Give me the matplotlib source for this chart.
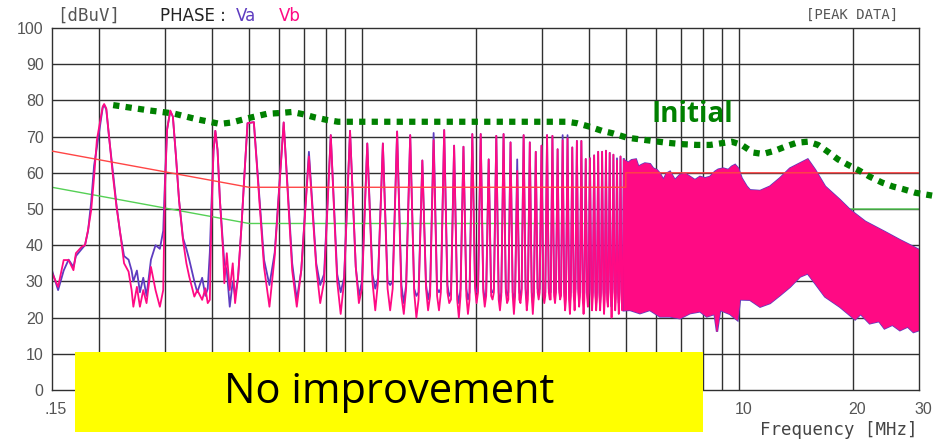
import numpy as np
import matplotlib.pyplot as plt
import matplotlib.transforms as mtransforms
from matplotlib.patches import Rectangle
from matplotlib.ticker import NullFormatter

# ---- data (MHz, dBuV) ----
# low band, drawn point by point (0.15 .. 0.5 MHz)
lo_f = [0.150, 0.1557, 0.1611, 0.166, 0.171, 0.1736, 0.180, 0.1835, 0.187, 0.1906,
        0.194, 0.1973, 0.2045, 0.2063, 0.209, 0.213, 0.2178, 0.2225, 0.227, 0.233,
        0.2395, 0.244, 0.2466, 0.252, 0.2567, 0.262, 0.2673, 0.2746, 0.2824, 0.290,
        0.296, 0.299, 0.303, 0.309, 0.314, 0.320, 0.326, 0.334, 0.341, 0.347,
        0.358, 0.3645, 0.3755, 0.383, 0.3885, 0.3935, 0.397, 0.4025, 0.407, 0.4125,
        0.4185, 0.4265, 0.43, 0.4365, 0.4445, 0.4527, 0.4592, 0.4677, 0.478, 0.4865, 0.4955]
vb_lo = [32.4, 28.5, 35.9, 35.9, 33.1, 37.8, 39.6, 40, 44.2, 49.7,
         58.9, 69, 78.3, 79, 77.8, 69, 58.9, 50.6, 44.2, 35,
         32.7, 27.6, 23, 28.5, 23, 27.6, 24, 34, 27.6, 23,
         27.6, 55, 71.8, 77.2, 75.5, 64.5, 52.5, 41.4, 35, 31.3,
         25.8, 27.6, 24.9, 28.1, 24, 24.9, 46, 66.3, 71.6, 66.3,
         52.5, 38.7, 29.5, 37.8, 27.6, 35, 24, 31.3, 46, 59.9, 73.7]
va_lo = [33, 27.6, 33, 36, 34, 37, 39, 40, 44, 52,
         62, 67, 78, 78.7, 77.5, 69, 60, 51, 44, 37,
         36, 33, 30, 33, 27, 31, 26, 36, 40, 39,
         44, 57, 72, 77, 75.5, 64.5, 52.5, 42, 39, 36,
         30, 27, 31, 26, 28, 38, 50, 66, 71.6, 66.3,
         52.5, 40, 35, 33, 23, 30, 26, 31, 46, 60, 73.7]

# harmonics 5..48 of the ~103 kHz switching frequency
fund = 0.103
harm = np.arange(5, 49)
vb_peak = [74.0, 73.9, 64.5, 70.4, 71.6, 68.1, 68.1, 71.4, 70.4, 63.4,
           69.0, 71.8, 67.5, 67.2, 70.7, 70.7, 63.7, 70.2, 70.7, 68.4,
           60.5, 70.4, 68.4, 65.8, 67.5, 70.4, 70.2, 66.5, 69.0, 69.5,
           67.0, 68.8, 68.8, 63.8, 64.0, 64.8, 65.8, 65.8, 66.1, 65.5,
           65.0, 63.4, 64.5, 63.5]
va_peak = [74.0, 73.9, 65.8, 70.4, 71.6, 68.1, 68.1, 71.4, 70.4, 63.4,
           71.0, 71.8, 67.5, 67.2, 70.7, 70.7, 63.7, 70.2, 70.7, 68.4,
           63.7, 70.4, 68.4, 65.8, 67.5, 70.4, 70.2, 66.5, 70.4, 70.4,
           67.0, 68.8, 68.8, 63.8, 64.0, 64.8, 65.8, 65.8, 66.1, 65.5,
           65.0, 64.0, 64.5, 63.8]
# valleys between harmonics: left foot, middle, right foot
vb_vl = [34, 33, 34, 30, 34, 30, 28, 26, 27, 28, 26, 27, 25, 26, 28, 27, 26, 25,
         27, 26, 25, 27, 26, 27, 26, 27, 26, 27, 26, 25, 26, 27, 25, 26, 27, 26,
         26, 27, 25, 26, 27, 26, 25]
vb_vm = [23, 23, 24, 21, 24, 22, 22, 21, 20, 22, 22, 24, 20, 21, 24, 23, 25, 22,
         24, 21, 24, 22, 21, 25, 24, 25, 24, 25, 22, 21, 22, 23, 21, 23, 22, 22,
         22, 21, 23, 20, 22, 21, 22]
vb_vr = [37, 33, 30, 30, 28, 30, 28, 28, 25, 26, 27, 25, 26, 25, 27, 26, 27, 26,
         25, 26, 27, 25, 26, 27, 26, 25, 27, 26, 25, 26, 27, 26, 25, 27, 26, 25,
         26, 25, 27, 26, 25, 26, 27]
va_vl = [36, 35, 35, 32, 34, 32, 30, 29, 28, 29, 28, 29, 27, 28, 29, 28, 27, 27,
         28, 27, 27, 28, 27, 28, 27, 28, 27, 28, 27, 27, 27, 28, 27, 27, 28, 27,
         27, 28, 27, 27, 28, 27, 27]
va_vm = [29, 25, 29, 27, 26, 28, 29, 24, 26, 25, 27, 26, 24, 25, 27, 25, 27, 24,
         26, 25, 26, 25, 24, 27, 26, 27, 26, 26, 25, 24, 25, 25, 24, 25, 25, 24,
         24, 25, 24, 23, 25, 24, 24]
va_vr = [38, 33, 32, 31, 30, 31, 30, 29, 27, 28, 28, 27, 28, 27, 28, 27, 28, 27,
         27, 27, 28, 27, 27, 28, 27, 27, 28, 27, 27, 27, 28, 27, 27, 28, 27, 27,
         27, 27, 28, 27, 27, 28, 27]

# dense part above ~5 MHz: upper / lower envelope of the spectrum
top_f = [4.94, 5.08, 5.18, 5.32, 5.40, 5.51, 5.62, 5.80, 5.91, 6.04, 6.16, 6.29, 6.42,
         6.55, 6.75, 6.96, 7.18, 7.40, 7.63, 7.87, 8.11, 8.37, 8.62, 8.80, 9.07, 9.36,
         9.55, 9.75, 9.94, 10.15, 10.47, 10.68, 11.36, 12.07, 12.83, 13.64, 14.49, 15.20,
         15.90, 16.90, 18.50, 19.70, 21.60, 24.30, 26.70, 28.40, 30.0]
top_db = [63.5, 62.8, 63.5, 63.7, 61.7, 62.2, 62.6, 62.4, 61.2, 60.8, 59.8, 58.0, 59.8,
          60.3, 58.0, 59.4, 59.8, 58.9, 58.0, 58.9, 58.5, 58.9, 60.3, 60.9, 61.2, 60.8,
          61.7, 62.2, 61.2, 58.5, 56.2, 55.2, 55.0, 56.2, 58.5, 61.2, 62.6, 63.7,
          60.8, 56.2, 52.5, 49.7, 46.5, 43.7, 41.4, 40.0, 38.7]
bot_f = [4.94, 5.13, 5.45, 5.79, 6.16, 6.55, 6.96, 7.40, 7.87, 8.20, 8.60,
         8.73, 8.90, 9.45, 9.90, 10.05, 10.68, 11.36, 12.07, 12.83, 13.64, 14.49, 15.20,
         15.90, 16.90, 18.50, 19.00, 20.30, 21.00, 22.20, 23.50, 24.30, 25.50, 26.70,
         28.00, 29.00, 30.0]
bot_db = [22.0, 22.1, 21.2, 22.1, 20.3, 20.3, 19.8, 21.2, 21.7, 20.3, 21.0,
          16.1, 22.1, 21.0, 19.3, 25.0, 24.9, 23.0, 24.0, 26.2, 28.5, 31.3, 32.2,
          29.5, 25.8, 23.0, 22.0, 19.5, 21.0, 18.4, 19.0, 17.0, 18.0, 16.5,
          17.5, 16.0, 16.5]

# limit lines (quasi-peak / average)
lim_f = [0.15, 0.5, 0.5, 5, 5, 30]
qp_db = [66, 56, 56, 56, 60, 60]
av_db = [56, 46, 46, 46, 50, 50]

# hand drawn "Initial" envelope
init_f = [0.218, 0.273, 0.315, 0.363, 0.419, 0.45, 0.493, 0.558, 0.601, 0.65, 0.695,
          0.748, 0.805, 0.862, 3.49, 3.71, 4.02, 4.32, 4.62, 5.04, 5.69, 6.43, 7.09,
          7.72, 8.37, 8.89, 9.55, 10.15, 10.88, 11.56, 12.44, 13.22, 14.21, 15.22,
          16.19, 17.2, 18.29, 19.44, 20.67, 22.23, 23.93, 25.59, 27.2, 29.3, 32.5]
init_db = [78.7, 77.2, 76.4, 74.8, 73.5, 73.9, 75.0, 76.3, 76.5, 76.8, 76.2,
           75.3, 74.6, 74.1, 74.1, 73.7, 72.7, 71.6, 70.9, 69.7, 69.0, 68.3, 67.9,
           67.7, 67.7, 68.1, 68.6, 67.7, 65.6, 65.2, 66.1, 67.2, 68.3, 68.6,
           67.7, 65.8, 63.7, 62.2, 60.8, 58.9, 57.3, 56.2, 55.5, 54.5, 53.7]

grid_f = [0.2, 0.3, 0.4, 0.5, 0.6, 0.7, 0.8, 0.9, 1, 2, 3, 4, 5, 6, 7, 8, 9, 10, 20]

PINK = '#ff0a84'
PURPLE = '#5e3cc0'


def comb(peaks, vl, vm, vr, d=0.033):
    fp = harm * fund
    f, v = [], []
    for i, p in enumerate(peaks):
        f.append(fp[i])
        v.append(p)
        if i < len(vl):
            f += [fp[i] + d, fp[i] + fund / 2, fp[i + 1] - d]
            v += [vl[i], vm[i], vr[i]]
    return f, v


cf_b, cv_b = comb(vb_peak, vb_vl, vb_vm, vb_vr)
cf_a, cv_a = comb(va_peak, va_vl, va_vm, va_vr)

fig = plt.figure(figsize=(9.43, 4.41), dpi=100)
ax = fig.add_axes([52 / 943, 51 / 441, 867 / 943, 362 / 441])
ax.set_xscale('log')
ax.set_xlim(0.15, 30)
ax.set_ylim(0, 100)

# grid
for g in grid_f:
    ax.axvline(g, color='#303030', lw=1.0, zorder=0.5)
for y in range(10, 100, 10):
    ax.axhline(y, color='#303030', lw=1.0, zorder=0.5)

ax.plot(lim_f, av_db, color='#55d055', lw=1.0, zorder=1)

# Va then Vb
ax.plot(lo_f + cf_a, va_lo + cv_a, color=PURPLE, lw=1.3, zorder=2)
ax.plot(lo_f + cf_b, vb_lo + cv_b, color=PINK, lw=1.3, zorder=2.1)
poly_f = top_f + bot_f[::-1]
poly_d = top_db + bot_db[::-1]
ax.fill(poly_f, poly_d, facecolor=PURPLE, edgecolor=PURPLE, lw=1.6, zorder=2)
ax.fill(poly_f, poly_d, facecolor=PINK, edgecolor=PINK, lw=0.5, zorder=2.1)

ax.plot(lim_f, qp_db, color='#ff4545', lw=1.0, zorder=3)

ax.plot(init_f, init_db, color='#008000', lw=4.5, linestyle=(0, (1, 1)),
        clip_on=False, zorder=5)

for s in ax.spines.values():
    s.set_color('#303030')
    s.set_linewidth(1.0)

ax.set_xticks([0.15, 10, 20, 30])
ax.set_xticklabels(['.15', '10', '20', '30'])
ax.xaxis.set_minor_formatter(NullFormatter())
ax.set_yticks(range(0, 101, 10))
ax.tick_params(which='both', length=0, labelcolor='#555555', labelsize=11.5)
ax.tick_params(axis='x', pad=9)
ax.tick_params(axis='y', pad=6)
for lbl in ax.get_xticklabels() + ax.get_yticklabels():
    lbl.set_family('Liberation Sans')
shift = mtransforms.ScaledTranslation(4 / 100, 0, fig.dpi_scale_trans)
for lbl in ax.get_xticklabels():
    lbl.set_transform(lbl.get_transform() + shift)

# header / footer texts
fig.text(57 / 943, 1 - 16 / 441, '[dBuV]', color='#555555', fontsize=12.5,
         family='DejaVu Sans Mono', va='center')
fig.text(160 / 943, 1 - 16 / 441, 'PHASE :', color='#222222', fontsize=12,
         family='DejaVu Sans', va='center')
fig.text(236 / 943, 1 - 16 / 441, 'Va', color=PURPLE, fontsize=12,
         family='DejaVu Sans', va='center')
fig.text(279 / 943, 1 - 16 / 441, 'Vb', color=PINK, fontsize=12,
         family='DejaVu Sans', va='center')
fig.text(898 / 943, 1 - 15 / 441, '[PEAK DATA]', color='#555555', fontsize=10,
         family='DejaVu Sans Mono', va='center', ha='right')
fig.text(917 / 943, 1 - 430 / 441, 'Frequency [MHz]', color='#444444', fontsize=12.5,
         family='DejaVu Sans Mono', va='center', ha='right')
fig.text(692 / 943, 1 - 122 / 441, 'Initial', color='#008000', fontsize=20,
         fontweight='bold', family='Open Sans', ha='center', va='baseline', zorder=6)

# yellow call-out
fig.patches.append(Rectangle((75 / 943, 1 - 432 / 441), 628 / 943, 80 / 441,
                             transform=fig.transFigure, facecolor='#ffff00',
                             edgecolor='none', zorder=10))
fig.text(389 / 943, 1 - 392 / 441, 'No improvement', color='black', fontsize=30,
         family='Open Sans', ha='center', va='center', zorder=11)

fig.savefig('out.png', dpi=100)
